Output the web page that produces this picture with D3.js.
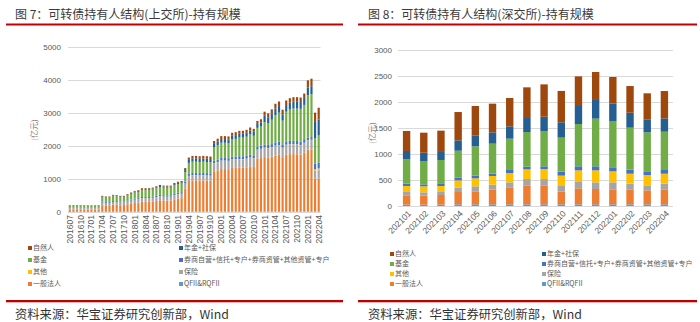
<!DOCTYPE html>
<html><head><meta charset="utf-8">
<script src="https://cdn.jsdelivr.net/npm/d3@7"></script>
<style>
body{margin:0;background:#fff;}
svg{display:block;font-family:"Liberation Sans",Arial,sans-serif;}
</style>
</head><body>
<svg id="c" width="700" height="322"></svg>
<script>
// ---------- shared series definitions ----------
const seriesKeys = ["qfii","corp","ins","other","broker","fund","pension","indiv"];
const seriesNames = ["QFII&RQFII","一般法人","保险","其他","券商自营+信托+专户+券商资管+其他资管+专户","基金","年金+社保","自然人"];
const seriesColors = ["#5B9BD5","#ED7D31","#A5A5A5","#FFC000","#4472C4","#70AD47","#255E91","#9E480E"];
const legendRows = [["indiv","pension"],["fund","broker"],["other","ins"],["corp","qfii"]];

// ---------- left chart (上交所) ----------
const leftMonths = [
"201607","201608","201609","201610","201611","201612",
"201701","201702","201703","201704","201705","201706","201707","201708","201709","201710","201711","201712",
"201801","201802","201803","201804","201805","201806","201807","201808","201809","201810","201811","201812",
"201901","201902","201903","201904","201905","201906","201907","201908","201909","201910","201911","201912",
"202001","202002","202003","202004","202005","202006","202007","202008","202009","202010","202011","202012",
"202101","202102","202103","202104","202105","202106","202107","202108","202109","202110","202111","202112",
"202201","202202","202203","202204"];
const leftYTicks = [0,1000,2000,3000,4000,5000];
const L_qfii = [5,5,5,5,5,5,5,5,5, 8,8,8,8,8,8,8, 9,9,9,9,
 10,10,10,10,10,10,10,10,10,10,10,10,10,10,10,10,10,10,10,10,
 12,12,12,12,12,12,12,12,12,12,12,12,
 14,14,14,14,14,14,14,14,14,14,14,14,14,14, 15,15,15,15];
const L_corp = [75,76,76,75,74,74,74,75,75,
 200,195,196,215,212,200,202,225,245,265,272,
 300,300,302,310,328,345,338,336,335,375,400,410,
 700,930,950,950,945,950,945,940,
 1220,1250,1290,1290,1285,1320,1325,1330,1330,1340,1370,1350,
 1600,1620,1650,1640,1660,1700,1720,1650,1730,1740,1740,1735,1720,1780,
 1875,1885,995,995];
const L_ins = [35,35,36,35,35,34,34,34,35,
 75,72,72,80,80,75,75,82,88,95,98,
 105,105,104,108,112,118,115,116,116,125,128,130,
 150,150,150,150,148,150,148,148,
 240,245,250,250,248,255,255,258,258,260,265,262,
 270,275,280,278,282,290,290,280,290,295,295,295,292,300,
 280,285,240,260];
const L_other = [2,2,2,2,2,2,2,2,2,
 3,3,3,3,3,3,3,3,3,
 4,4,4,4,4,4,4,4,4,4,4,
 5,5,5,5,5,5,5,5,5,5,5,
 6,6,6,6,6,6,6,6,6,6,6,6,6,6,6,6,6,6,6,6,6,6,6,6,6,6,6,6,
 40,50];
const L_broker = [10,10,10,10,10,10,10,10,10,
 28,27,27,28,28,27,27,30,32,34,35,
 37,37,37,38,40,42,41,41,41,44,45,46,
 55,65,70,70,70,70,70,70,
 75,78,80,80,80,82,82,83,83,84,85,85,
 90,92,95,95,96,100,100,98,100,100,100,100,100,105,
 80,80,180,180];
const L_fund = [65,66,66,64,64,63,64,64,66,
 140,130,129,147,145,140,138,155,168,183,190,
 207,207,206,212,225,237,230,231,232,252,260,265,
 290,330,340,340,337,340,337,332,
 400,430,460,460,457,520,535,565,565,580,612,595,
 570,583,680,650,740,830,880,720,900,950,980,985,995,1040,
 1280,1300,760,820];
const L_pension = [8,8,8,8,8,8,8,8,8,
 18,17,17,19,19,18,18,20,22,25,26,
 28,28,28,29,30,32,31,31,31,34,36,37,
 60,90,100,100,100,100,100,100,
 110,110,112,112,112,115,115,116,116,118,120,120,
 120,125,190,185,190,200,200,195,200,205,205,205,205,210,
 235,240,500,480];
const L_indiv = [10,10,10,10,10,10,10,10,10,
 18,18,18,20,20,19,19,21,23,25,26,
 29,29,29,29,31,32,31,31,31,35,36,37,
 60,70,75,75,75,75,75,75,
 87,89,90,90,90,90,90,90,90,90,90,90,
 90,95,125,122,122,140,140,137,140,140,140,140,138,135,
 219,229,280,360];

// ---------- right chart (深交所) ----------
const rightMonths = ["202101","202102","202103","202104","202105","202106","202107","202108",
 "202109","202110","202111","202112","202201","202202","202203","202204"];
const rightYTicks = [0,500,1000,1500,2000,2500,3000];
const R_qfii    = [26,26,26,32,32,32,32,32,32,32,32,32,32,32,32,32];
const R_corp    = [180,173,186,237,250,282,327,365,365,244,308,295,288,288,269,288];
const R_ins     = [64,64,58,83,96,96,96,122,122,109,122,128,135,109,96,109];
const R_other   = [115,115,115,141,154,167,179,186,192,199,224,231,212,192,199,192];
const R_broker  = [45,38,51,51,51,45,58,51,51,77,77,77,77,77,71,71];
const R_fund    = [468,449,449,519,564,577,603,667,673,654,814,917,891,808,750,737];
const R_pension = [160,160,154,199,212,218,237,269,282,295,346,359,333,288,250,256];
const R_indiv   = [385,385,410,545,564,551,545,590,622,603,570,538,513,513,500,526];

const svg = d3.select("#c");
const colorOf = d3.scaleOrdinal().domain(seriesKeys).range(seriesColors);
const nameOf = d3.scaleOrdinal().domain(seriesKeys).range(seriesNames);

function drawChart(cfg){
  const rows = cfg.months.map((m,i)=>{
    const r = {month:m};
    seriesKeys.forEach((k,j)=>{ r[k] = cfg.series[j][i]; });
    return r;
  });
  const x = d3.scaleBand().domain(cfg.months).range([cfg.x0,cfg.x1]).paddingInner(cfg.pad).paddingOuter(cfg.pad/2);
  const y = d3.scaleLinear().domain([0,cfg.yMax]).range([cfg.yBase,cfg.yTop]);
  const g = svg.append("g");

  // title
  g.append("text").attr("x",cfg.titleX).attr("y",18.5)
    .attr("font-family","'Noto Sans CJK SC',sans-serif").attr("font-size",12)
    .attr("fill","#3a3a3a").text(cfg.title);
  g.append("rect").attr("x",cfg.lineX0).attr("y",23.5).attr("width",cfg.lineX1-cfg.lineX0).attr("height",2).attr("fill","#C00000");
  g.append("rect").attr("x",cfg.lineX0).attr("y",300).attr("width",cfg.lineX1-cfg.lineX0).attr("height",2.3).attr("fill","#C00000");
  g.append("text").attr("x",cfg.titleX).attr("y",318.5)
    .attr("font-family","'Noto Sans CJK SC',sans-serif").attr("font-size",12.3)
    .attr("fill","#333").text("资料来源：华宝证券研究创新部，Wind");

  // y axis with gridlines
  const ya = g.append("g").attr("transform",`translate(${cfg.x0},0)`)
    .call(d3.axisLeft(y).tickValues(cfg.yTicks).tickSize(-(cfg.x1-cfg.x0)).tickPadding(cfg.yPad).tickFormat(d3.format("d")));
  ya.select(".domain").remove();
  ya.selectAll(".tick line").attr("stroke","#D9D9D9").attr("stroke-width",1);
  ya.selectAll(".tick text").attr("fill","#595959").attr("font-size",8).attr("font-family","'Liberation Sans',Arial,sans-serif");

  g.append("text").attr("transform",`translate(${cfg.yTitleX},${cfg.yTitleY}) rotate(-90)`)
    .attr("text-anchor","middle").attr("font-size",8).attr("fill","#7f7f7f")
    .attr("font-family","'Noto Sans CJK SC',sans-serif").text("(亿元)");

  // bars
  const stacked = d3.stack().keys(seriesKeys)(rows);
  g.append("g").selectAll("g").data(stacked).join("g")
    .attr("fill",d=>colorOf(d.key))
    .selectAll("rect").data(d=>d).join("rect")
    .attr("x",d=>x(d.data.month)).attr("width",x.bandwidth())
    .attr("y",d=>y(d[1])).attr("height",d=>Math.max(0,y(d[0])-y(d[1])));

  // x axis
  const xa = g.append("g").attr("transform",`translate(0,${cfg.yBase})`)
    .call(d3.axisBottom(x).tickValues(cfg.months.filter((m,i)=>i%cfg.every===0)).tickSize(0));
  xa.select(".domain").remove();
  xa.selectAll(".tick text").attr("fill","#595959").attr("font-size",8.5)
    .attr("font-family","'Liberation Sans',Arial,sans-serif")
    .attr("x",0).attr("y",0).attr("dy","0.35em").attr("text-anchor","end")
    .attr("transform",cfg.xRot);

  // legend
  const lg = g.append("g").attr("font-family","'Noto Sans CJK SC',sans-serif").attr("font-size",7).attr("fill","#595959");
  legendRows.forEach((row,ri)=>{
    row.forEach((k,ci)=>{
      const lx = cfg.legX[ci], ly = cfg.legY[ri];
      lg.append("rect").attr("x",lx).attr("y",ly-2).attr("width",4).attr("height",4).attr("fill",colorOf(k));
      lg.append("text").attr("x",lx+5).attr("y",ly).attr("dy","0.35em").text(nameOf(k));
    });
  });
}

drawChart({
  months:leftMonths, series:[L_qfii,L_corp,L_ins,L_other,L_broker,L_fund,L_pension,L_indiv],
  x0:68, x1:320.5, pad:0.4, yMax:5000, yBase:212, yTop:47, yTicks:leftYTicks, yPad:7,
  yTitleX:37, yTitleY:130, every:3, xRot:"translate(0,3) rotate(-90)",
  title:"图 7：可转债持有人结构(上交所)-持有规模", titleX:15, lineX0:6, lineX1:343,
  legX:[28,179], legY:[248,260,272,284]
});
drawChart({
  months:rightMonths, series:[R_qfii,R_corp,R_ins,R_other,R_broker,R_fund,R_pension,R_indiv],
  x0:398, x1:673, pad:0.57, yMax:3000, yBase:206, yTop:50, yTicks:rightYTicks, yPad:6,
  yTitleX:375, yTitleY:133, every:1, xRot:"translate(3,6) rotate(-45)",
  title:"图 8：可转债持有人结构(深交所)-持有规模", titleX:368, lineX0:358, lineX1:697,
  legX:[390,542], legY:[254,264,274,284]
});
</script>
</body></html>
